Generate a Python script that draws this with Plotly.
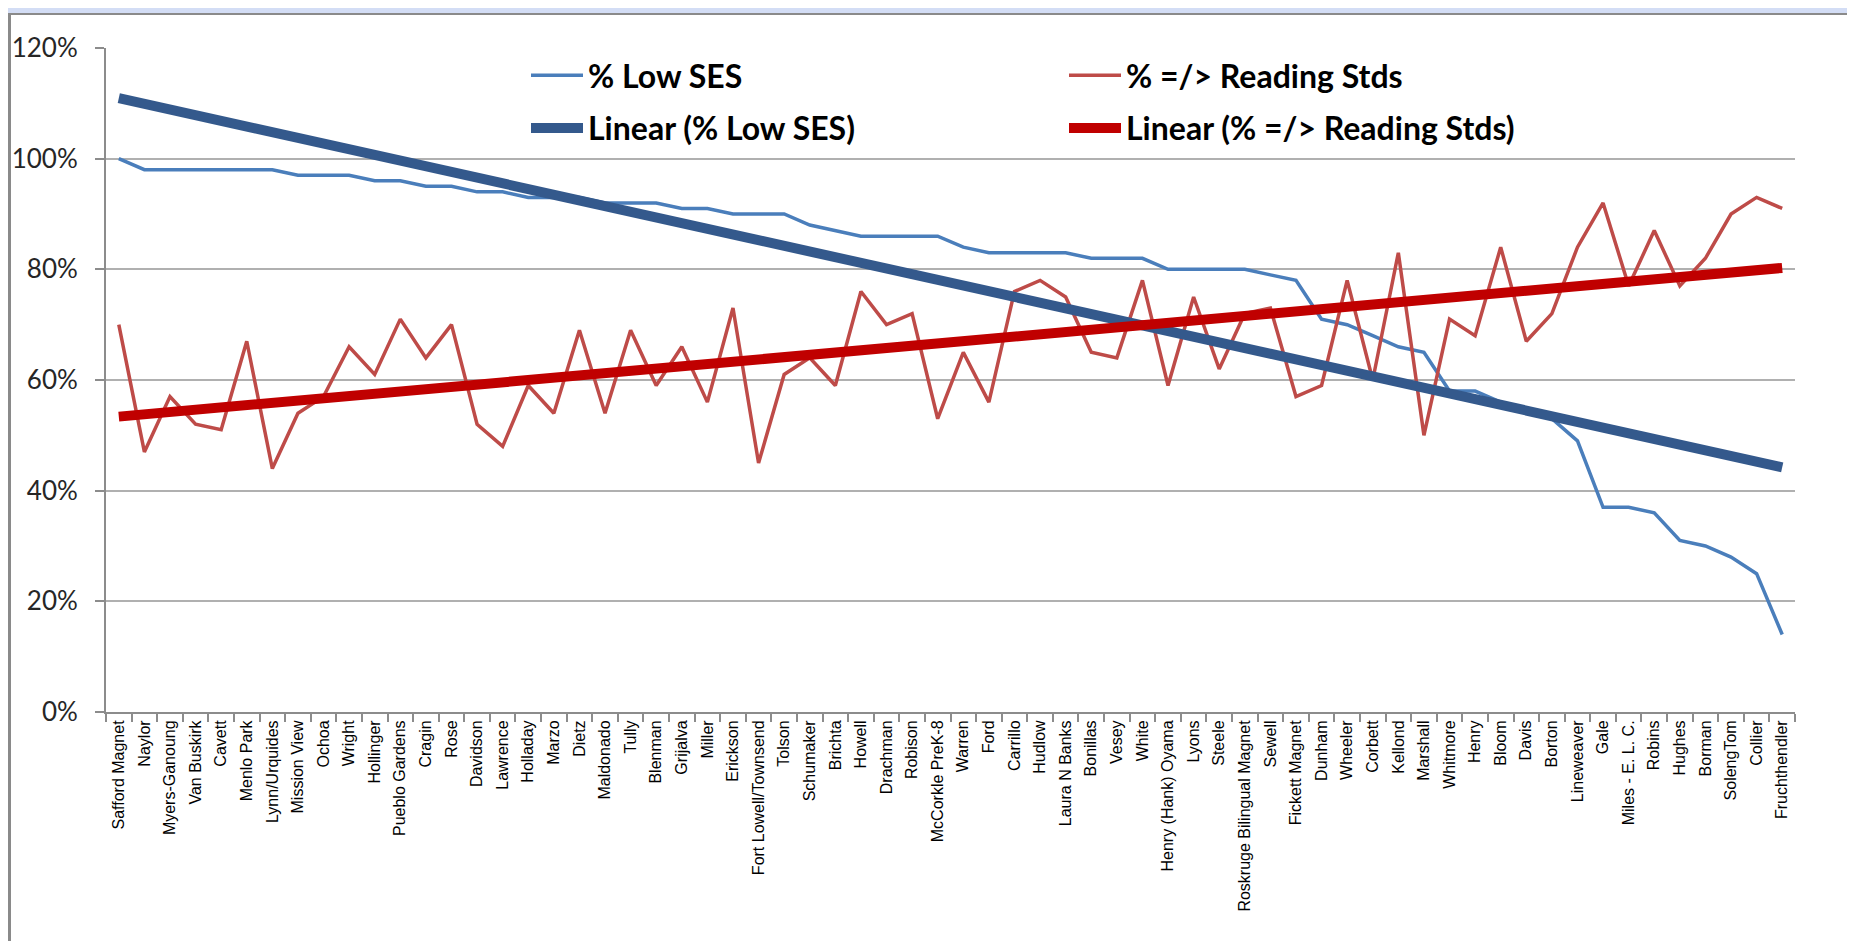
import numpy as np
import plotly.graph_objects as go

schools = [
    "Safford Magnet", "Naylor", "Myers-Ganoung", "Van Buskirk", "Cavett", "Menlo Park",
    "Lynn/Urquides", "Mission View", "Ochoa", "Wright", "Hollinger", "Pueblo Gardens",
    "Cragin", "Rose", "Davidson", "Lawrence", "Holladay", "Marzo", "Dietz", "Maldonado",
    "Tully", "Blenman", "Grijalva", "Miller", "Erickson", "Fort Lowell/Townsend", "Tolson",
    "Schumaker", "Brichta", "Howell", "Drachman", "Robison", "McCorkle PreK-8", "Warren",
    "Ford", "Carrillo", "Hudlow", "Laura N Banks", "Bonillas", "Vesey", "White",
    "Henry (Hank) Oyama", "Lyons", "Steele", "Roskruge Bilingual Magnet", "Sewell",
    "Fickett Magnet", "Dunham", "Wheeler", "Corbett", "Kellond", "Marshall", "Whitmore",
    "Henry", "Bloom", "Davis", "Borton", "Lineweaver", "Gale", "Miles - E. L. C.", "Robins",
    "Hughes", "Borman", "SolengTom", "Collier", "Fruchthendler",
]

low_ses_pct = [
    100, 98, 98, 98, 98, 98, 98, 97, 97, 97, 96, 96, 95, 95, 94, 94, 93, 93, 93, 92,
    92, 92, 91, 91, 90, 90, 90, 88, 87, 86, 86, 86, 86, 84, 83, 83, 83, 83, 82, 82,
    82, 80, 80, 80, 80, 79, 78, 71, 70, 68, 66, 65, 58, 58, 56, 54, 53, 49, 37, 37,
    36, 31, 30, 28, 25, 14,
]

reading_pct = [
    70, 47, 57, 52, 51, 67, 44, 54, 57, 66, 61, 71, 64, 70, 52, 48, 59, 54, 69, 54,
    69, 59, 66, 56, 73, 45, 61, 64, 59, 76, 70, 72, 53, 65, 56, 76, 78, 75, 65, 64,
    78, 59, 75, 62, 72, 73, 57, 59, 78, 60, 83, 50, 71, 68, 84, 67, 72, 84, 92, 77,
    87, 77, 82, 90, 93, 91,
]

low_ses = [v / 100 for v in low_ses_pct]
reading = [v / 100 for v in reading_pct]

idx = np.arange(1, len(schools) + 1)
p_ses = np.polyfit(idx, low_ses, 1)
p_read = np.polyfit(idx, reading, 1)
trend_ses = np.polyval(p_ses, idx)
trend_read = np.polyval(p_read, idx)

W, H = 1855, 941
ML, MR, MT, MB = 98, 68, 40, 237
plot_h = H - MT - MB
plot_w = W - ML - MR


def py(px):
    return (H - MB - px) / plot_h


def pxx(px):
    return (px - ML) / plot_w


fig = go.Figure()
fig.add_trace(go.Scatter(x=schools, y=low_ses, mode="lines", name="% Low SES",
                         line=dict(color="#4A7EBB", width=3.5), legend="legend",
                         legendgroup="a"))
fig.add_trace(go.Scatter(x=schools, y=reading, mode="lines", name="% =/> Reading Stds",
                         line=dict(color="#BE4B48", width=3.5), legend="legend2",
                         legendgroup="b"))
fig.add_trace(go.Scatter(x=schools, y=trend_ses, mode="lines", name="Linear (% Low SES)",
                         line=dict(color="#34598C", width=10), legend="legend",
                         legendgroup="c"))
fig.add_trace(go.Scatter(x=schools, y=trend_read, mode="lines",
                         name="Linear (% =/> Reading Stds)",
                         line=dict(color="#C00000", width=10), legend="legend2",
                         legendgroup="d"))

legend_font = dict(family="Lato", size=32, color="#000000", weight="bold")
common_legend = dict(font=legend_font, bgcolor="rgba(0,0,0,0)", borderwidth=0,
                     orientation="v", yanchor="top", xanchor="left",
                     itemwidth=52, tracegroupgap=8, traceorder="grouped")

fig.update_layout(
    width=W, height=H,
    margin=dict(l=ML, r=MR, t=MT, b=MB),
    paper_bgcolor="#FFFFFF", plot_bgcolor="#FFFFFF",
    showlegend=True,
    legend=dict(x=pxx(518), y=py(40), **common_legend),
    legend2=dict(x=pxx(1056), y=py(40), **common_legend),
    xaxis=dict(
        type="category", range=[-0.5, len(schools) - 0.5], automargin=False,
        tickangle=-90, tickfont=dict(family="Liberation Sans", size=16, color="#000000"),
        showline=True, linecolor="#8C8C8C", linewidth=2,
        ticks="outside", ticklen=8, tickcolor="#8C8C8C", tickwidth=1.5,
        tickson="boundaries", showgrid=False, zeroline=False,
    ),
    yaxis=dict(
        range=[0, 1.2], dtick=0.2, tick0=0, tickformat=".0%", automargin=False,
        tickfont=dict(family="Lato", size=26, color="#262626"),
        ticklabelstandoff=12,
        showline=True, linecolor="#8C8C8C", linewidth=2,
        ticks="outside", ticklen=9, tickcolor="#8C8C8C", tickwidth=1.5,
        showgrid=True, gridcolor="#B0B0B0", gridwidth=1.5, zeroline=False,
    ),
    shapes=[
        dict(type="rect", xref="paper", yref="paper", x0=pxx(0), x1=pxx(W),
             y0=py(5), y1=py(0), fillcolor="#D3DDF5", line=dict(width=0), layer="above"),
        dict(type="rect", xref="paper", yref="paper", x0=pxx(0), x1=pxx(W),
             y0=py(7), y1=py(5), fillcolor="#8A8A8A", line=dict(width=0), layer="above"),
        dict(type="rect", xref="paper", yref="paper", x0=pxx(0), x1=pxx(3),
             y0=py(H), y1=py(5), fillcolor="#8A8A8A", line=dict(width=0), layer="above"),
        dict(type="rect", xref="paper", yref="paper", x0=pxx(1851), x1=pxx(1853),
             y0=py(H), y1=py(5), fillcolor="#8A8A8A", line=dict(width=0), layer="above"),
        dict(type="rect", xref="paper", yref="paper", x0=pxx(1853), x1=pxx(W),
             y0=py(H), y1=py(5), fillcolor="#D3DDF5", line=dict(width=0), layer="above"),
    ],
)

fig.write_html("out.html")
